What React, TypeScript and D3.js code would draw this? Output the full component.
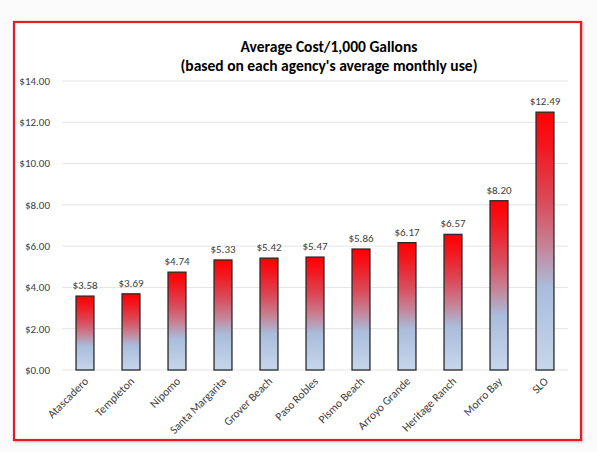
import React from "react";
import * as d3 from "d3";

const categories = ["Atascadero","Templeton","Nipomo","Santa Margarita","Grover Beach","Paso Robles","Pismo Beach","Arroyo Grande","Heritage Ranch","Morro Bay","SLO"];
const values = [3.58,3.69,4.74,5.33,5.42,5.47,5.86,6.17,6.57,8.20,12.49];
const yTicks = [0,2,4,6,8,10,12,14];
const titleLines = ["Average Cost/1,000 Gallons","(based on each agency's average monthly use)"];

export default function App() {
  const W = 597, H = 452;
  const x = d3.scaleBand<string>().domain(categories).range([62, 568]).paddingInner(0.61).paddingOuter(0.305);
  const y = d3.scaleLinear().domain([0, 14]).range([370, 81]);
  const font = "Calibri, Carlito, Lato, 'Open Sans', 'Liberation Sans', sans-serif";
  return (
    <svg width={W} height={H} style={{position:"absolute", left:0, top:0}} fontFamily={font}>
      <defs>
        <linearGradient id="barGrad" x1="0" y1="0" x2="0" y2="1">
          <stop offset="0" stopColor="#ff0000"/>
          <stop offset="0.12" stopColor="#f4141c"/>
          <stop offset="0.35" stopColor="#d94c5c"/>
          <stop offset="0.52" stopColor="#c68397"/>
          <stop offset="0.68" stopColor="#a9bddc"/>
          <stop offset="1" stopColor="#c6d6eb"/>
        </linearGradient>
        <filter id="sh" x="-5%" y="-5%" width="110%" height="110%">
          <feDropShadow dx="1" dy="1" stdDeviation="1.2" floodColor="#000" floodOpacity="0.25"/>
        </filter>
      </defs>
      <rect x={0} y={0} width={W} height={H} fill="#fbfbfb"/>
      <rect x={14} y={22} width={567} height={418} fill="#fff" stroke="#e41e26" strokeWidth={2.2} filter="url(#sh)"/>
      {titleLines.map((t, i) => (
        <text key={i} x={329} y={52 + i * 18.5} textAnchor="middle" fontSize={15.5} fontWeight="bold" fill="#000">{t}</text>
      ))}
      {yTicks.map(t => (
        <g key={t}>
          <line x1={62} x2={568} y1={y(t)} y2={y(t)} stroke="#e3e3e3" strokeWidth={1}/>
          <text x={50} y={y(t)} dy="0.35em" textAnchor="end" fontSize={11} fill="#404040">{d3.format("$.2f")(t)}</text>
        </g>
      ))}
      {categories.map((c, i) => {
        const bx = x(c)!;
        const bw = x.bandwidth();
        return (
          <g key={c}>
            <rect x={bx} y={y(values[i])} width={bw} height={y(0) - y(values[i])} fill="url(#barGrad)" stroke="#2a2a2a" strokeWidth={1.3}/>
            <text x={bx + bw / 2} y={y(values[i]) - 7} textAnchor="middle" fontSize={11} fill="#404040">{d3.format("$.2f")(values[i])}</text>
            <text transform={`translate(${bx + bw / 2 + 4},${y(0) + 12}) rotate(-45)`} textAnchor="end" fontSize={11.5} fill="#404040">{c}</text>
          </g>
        );
      })}
    </svg>
  );
}
